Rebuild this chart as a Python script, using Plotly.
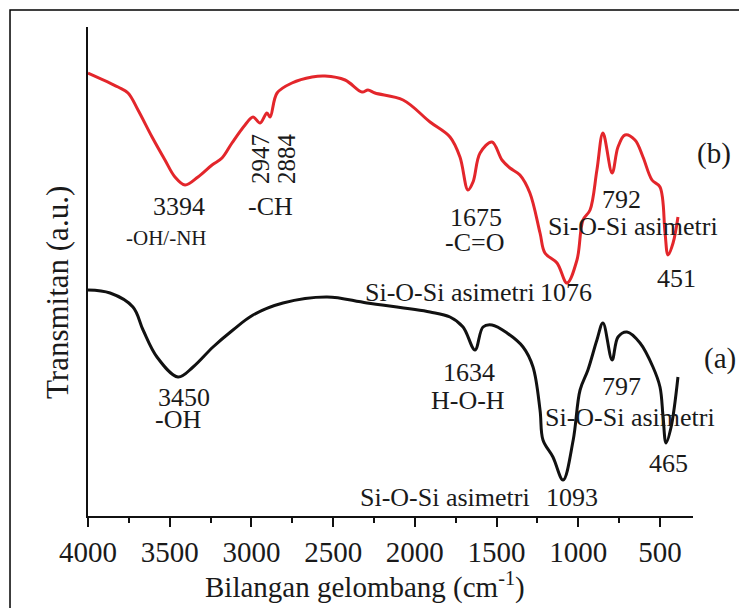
import plotly.graph_objects as go

# ---- data ----
wn_b = [4000, 3816, 3755, 3694, 3608, 3529, 3468, 3406, 3327, 3241, 3180, 3119, 3039, 2990,
        2947, 2905, 2886, 2843, 2752, 2629, 2550, 2427, 2323, 2287, 2244, 2072, 1907, 1785,
        1724, 1675, 1644, 1601, 1528, 1467, 1418, 1357, 1296, 1234, 1204, 1130, 1069, 1008,
        971, 928, 886, 849, 793, 757, 714, 653, 604, 549, 500, 469, 451, 420, 390]
tr_b = [443, 429, 423, 406, 379, 356, 339, 331, 339, 351, 358, 373, 391, 399,
        393, 403, 399, 423, 433, 439, 440, 436, 424, 426, 423, 416, 394, 379,
        359, 326, 334, 363, 374, 356, 348, 341, 323, 283, 263, 253, 233, 256,
        296, 306, 346, 383, 343, 369, 381, 376, 359, 336, 329, 283, 261, 273, 299]

wn_a = [4000, 3865, 3725, 3663, 3578, 3449, 3357, 3235, 3113, 2990, 2807, 2537, 2293, 1907,
        1785, 1705, 1632, 1583, 1528, 1436, 1338, 1277, 1234, 1216, 1155, 1093, 1031, 989,
        941, 886, 849, 793, 757, 702, 622, 543, 500, 481, 463, 432, 390]
tr_a = [226, 223, 209, 186, 159, 139, 149, 169, 186, 201, 213, 219, 213, 204,
        199, 189, 166, 189, 191, 183, 169, 149, 106, 76, 59, 36, 76, 126,
        146, 176, 193, 156, 179, 184, 173, 149, 129, 99, 73, 89, 139]

tick_vals = [4000, 3500, 3000, 2500, 2000, 1500, 1000, 500]
tick_text = [str(v) for v in tick_vals]

# peak labels: text, wavenumber, transmittance (a.u.), size, angle
labels = [
    ("3394", 3443, 310, 26, 0),
    ("-OH/-NH", 3523, 278, 21, 0),
    ("2947", 2948, 357, 25, -90),
    ("2884", 2788, 357, 25, -90),
    ("-CH", 2886, 310, 26, 0),
    ("1675", 1626, 299, 26, 0),
    ("-C=O", 1632, 274, 26, 0),
    ("792", 733, 317, 26, 0),
    ("Si-O-Si asimetri", 665, 290, 26, 0),
    ("451", 402, 238, 26, 0),
    ("Si-O-Si asimetri", 1785, 224, 26, 0),
    ("1076", 1075, 224, 26, 0),
    ("1634", 1669, 144, 26, 0),
    ("H-O-H", 1675, 116, 26, 0),
    ("797", 733, 130, 26, 0),
    ("Si-O-Si asimetri", 684, 99, 26, 0),
    ("465", 451, 53, 26, 0),
    ("Si-O-Si asimetri", 1816, 19, 26, 0),
    ("1093", 1038, 19, 26, 0),
    ("3450", 3413, 119, 26, 0),
    ("-OH", 3449, 97, 26, 0),
]

FONT = "Liberation Serif"
TXT = "#1a1a1a"

fig = go.Figure()
fig.add_trace(go.Scatter(x=wn_b, y=tr_b, mode="lines", line=dict(color="#e3262b", width=3),
                         line_shape="spline", showlegend=False, hoverinfo="skip"))
fig.add_trace(go.Scatter(x=wn_a, y=tr_a, mode="lines", line=dict(color="#111111", width=3),
                         line_shape="spline", showlegend=False, hoverinfo="skip"))

annotations = []
for txt, x, y, size, ang in labels:
    annotations.append(dict(text=txt, x=x, y=y, xref="x", yref="y", showarrow=False,
                            xanchor="center", yanchor="middle", textangle=ang,
                            font=dict(family=FONT, size=size, color=TXT)))
annotations.append(dict(text="(b)", x=1.035, y=363, xref="paper", yref="y", showarrow=False,
                        xanchor="center", yanchor="middle",
                        font=dict(family=FONT, size=29, color=TXT)))
annotations.append(dict(text="(a)", x=1.045, y=158, xref="paper", yref="y", showarrow=False,
                        xanchor="center", yanchor="middle",
                        font=dict(family=FONT, size=29, color=TXT)))
annotations.append(dict(text="Bilangan gelombang (cm<sup>-1</sup>)", x=0.458, y=-0.143,
                        xref="paper", yref="paper", showarrow=False,
                        xanchor="center", yanchor="middle",
                        font=dict(family=FONT, size=29, color=TXT)))
annotations.append(dict(text="Transmitan (a.u.)", x=-0.0512, y=0.456, xref="paper", yref="paper",
                        showarrow=False, textangle=-90, xanchor="center", yanchor="middle",
                        font=dict(family=FONT, size=31, color=TXT)))

fig.update_layout(
    width=739, height=608,
    margin=dict(l=88, r=46, t=27, b=92),
    paper_bgcolor="white", plot_bgcolor="white",
    font=dict(family=FONT, color=TXT),
    annotations=annotations,
    shapes=[dict(type="rect", xref="paper", yref="paper", x0=-0.1289, x1=1.2, y0=-0.3, y1=1.0348,
                 line=dict(color="black", width=1.5), fillcolor="rgba(0,0,0,0)", layer="below")],
)
fig.update_xaxes(range=[4000, 298], tickmode="array", tickvals=tick_vals, ticktext=tick_text,
                 ticks="outside", ticklen=9, tickwidth=2, tickcolor="#111",
                 minor=dict(tickvals=[3750, 3250, 2750, 2250, 1750, 1250, 750], ticks="outside",
                            ticklen=5, tickwidth=2, tickcolor="#111"),
                 showline=True, linecolor="#111", linewidth=2, showgrid=False, zeroline=False,
                 tickfont=dict(family=FONT, size=29, color=TXT))
fig.update_yaxes(range=[0, 489], showline=True, linecolor="#111", linewidth=2, showgrid=False,
                 zeroline=False, showticklabels=False, ticks="")

fig.write_html("out.html")
